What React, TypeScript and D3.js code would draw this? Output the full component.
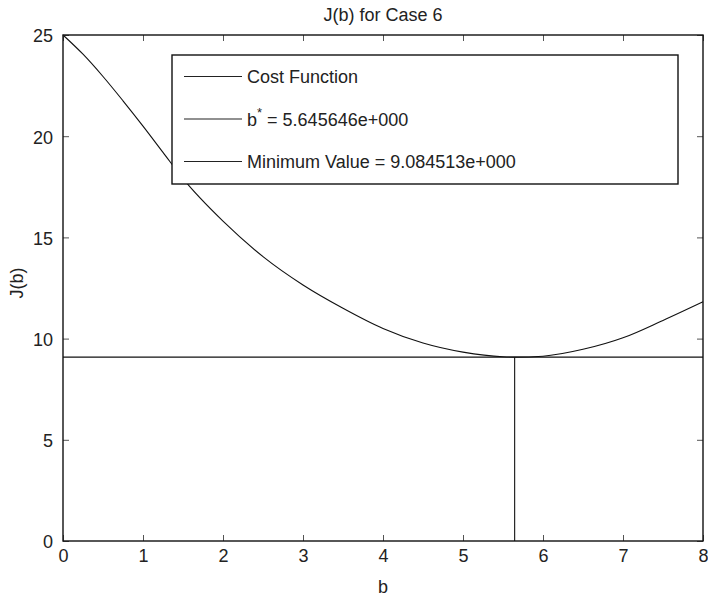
import React, { useRef, useEffect } from 'react'
import * as d3 from 'd3'

// values
const bValues = [0, 0.25, 0.5, 0.75, 1, 1.25, 1.5, 2, 2.5, 3, 3.5, 4, 4.5, 5, 5.5, 5.645646, 6, 6.5, 7, 7.5, 8]
const costValues = [25, 24.05, 22.95, 21.75, 20.5, 19.2, 17.9, 15.8, 14.05, 12.65, 11.5, 10.5, 9.78, 9.33, 9.1, 9.084513, 9.13, 9.47, 10.04, 10.9, 11.82]
const bStar = 5.645646
const minValue = 9.084513
const xTicks = [0, 1, 2, 3, 4, 5, 6, 7, 8]
const yTicks = [0, 5, 10, 15, 20, 25]
const legendLabels = ['Cost Function', 'b* = 5.645646e+000', 'Minimum Value = 9.084513e+000']

const W = 708
const H = 599
const margin = { left: 63, top: 35, right: 5, bottom: 58 }
const font = '"Liberation Sans", Arial, Helvetica, sans-serif'

export default function App() {
  const svgRef = useRef(null)

  useEffect(() => {
    document.body.style.margin = '0'
    const svg = d3.select(svgRef.current)
    svg.selectAll('*').remove()

    const x = d3.scaleLinear().domain([0, 8]).range([margin.left, W - margin.right])
    const y = d3.scaleLinear().domain([0, 25]).range([H - margin.bottom, margin.top])

    const plotW = x(8) - x(0)
    const plotH = y(0) - y(25)

    // data lines
    const pts = bValues.map((b, i) => [b, costValues[i]])
    const curve = d3.line()
      .x(d => x(d[0]))
      .y(d => y(d[1]))
      .curve(d3.curveMonotoneX)

    svg.append('path')
      .attr('d', curve(pts))
      .attr('fill', 'none')
      .attr('stroke', '#111')
      .attr('stroke-width', 1.1)

    svg.append('line')
      .attr('x1', x(0)).attr('x2', x(8))
      .attr('y1', y(minValue)).attr('y2', y(minValue))
      .attr('stroke', '#111').attr('stroke-width', 1.1)

    svg.append('line')
      .attr('x1', x(bStar)).attr('x2', x(bStar))
      .attr('y1', y(0)).attr('y2', y(minValue))
      .attr('stroke', '#111').attr('stroke-width', 1.1)

    // axes, ticks pointing inward
    const tick = 6
    const gb = svg.append('g').attr('transform', `translate(0,${y(0)})`)
      .call(d3.axisBottom(x).tickValues(xTicks).tickSizeInner(-tick).tickSizeOuter(0).tickPadding(8))
    const gl = svg.append('g').attr('transform', `translate(${x(0)},0)`)
      .call(d3.axisLeft(y).tickValues(yTicks).tickSizeInner(-tick).tickSizeOuter(0).tickPadding(10))
    const gt = svg.append('g').attr('transform', `translate(0,${y(25)})`)
      .call(d3.axisTop(x).tickValues(xTicks).tickSizeInner(-tick).tickSizeOuter(0).tickFormat(() => ''))
    const gr = svg.append('g').attr('transform', `translate(${x(8)},0)`)
      .call(d3.axisRight(y).tickValues(yTicks).tickSizeInner(-tick).tickSizeOuter(0).tickFormat(() => ''))

    ;[gb, gl, gt, gr].forEach(g => {
      g.select('.domain').remove()
      g.selectAll('.tick line').attr('stroke', '#555')
      g.selectAll('.tick text')
        .attr('font-family', font)
        .attr('font-size', 18)
        .attr('fill', '#222')
    })
    gl.selectAll('.tick text').attr('dy', '0.38em')

    svg.append('rect')
      .attr('x', x(0)).attr('y', y(25))
      .attr('width', plotW).attr('height', plotH)
      .attr('fill', 'none')
      .attr('stroke', '#111')
      .attr('stroke-width', 1.4)

    // legend
    const lg = svg.append('g').attr('transform', 'translate(172,55)')
    lg.append('rect')
      .attr('width', 506).attr('height', 129)
      .attr('fill', '#fff')
      .attr('stroke', '#111')
      .attr('stroke-width', 1.4)

    const rowY = [21.5, 64, 106.5]
    legendLabels.forEach((lab, i) => {
      lg.append('line')
        .attr('x1', 12).attr('x2', 70)
        .attr('y1', rowY[i]).attr('y2', rowY[i])
        .attr('stroke', '#222').attr('stroke-width', 1.1)
      const t = lg.append('text')
        .attr('x', 75).attr('y', rowY[i] + 6.5)
        .attr('font-family', font)
        .attr('font-size', 18)
        .attr('fill', '#222')
      if (lab.startsWith('b*')) {
        t.append('tspan').text('b')
        t.append('tspan').attr('dy', -9).attr('font-size', 13).text('*')
        t.append('tspan').attr('dy', 9).text(lab.slice(2))
      } else {
        t.text(lab)
      }
    })

    // titles
    svg.append('text')
      .attr('x', (x(0) + x(8)) / 2).attr('y', 21)
      .attr('text-anchor', 'middle')
      .attr('font-family', font).attr('font-size', 18).attr('fill', '#222')
      .text('J(b) for Case 6')

    svg.append('text')
      .attr('x', (x(0) + x(8)) / 2).attr('y', 593)
      .attr('text-anchor', 'middle')
      .attr('font-family', font).attr('font-size', 18).attr('fill', '#222')
      .text('b')

    svg.append('text')
      .attr('transform', `translate(23,${(y(0) + y(25)) / 2 - 5}) rotate(-90)`)
      .attr('text-anchor', 'middle')
      .attr('font-family', font).attr('font-size', 18).attr('fill', '#222')
      .text('J(b)')
  }, [])

  return (
    <svg ref={svgRef} width={W} height={H} style={{ display: 'block', background: '#fff' }} />
  )
}
